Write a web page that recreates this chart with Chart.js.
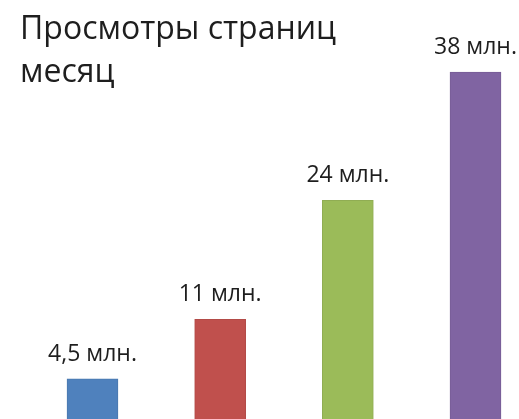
<!DOCTYPE html>
<html>
<head>
<meta charset="utf-8">
<script src="https://cdn.jsdelivr.net/npm/chart.js@4"></script>
<style>
html, body { margin: 0; padding: 0; background: #fff; overflow: hidden; }
canvas { display: block; }
</style>
</head>
<body>
<canvas id="views" width="519" height="420"></canvas>
<script>
const titleLines = ["Просмотры страниц", "месяц"];
const periods = ["1", "2", "3", "4"];
const views = [4.5, 11, 24, 38];
const valueLabels = ["4,5 млн.", "11 млн.", "24 млн.", "38 млн."];

const fontFace = "'Open Sans', sans-serif";

// title and labels over the bars, drawn on the canvas
const textPlugin = {
    id: "texts",
    afterDatasetsDraw(chart) {
        const ctx = chart.ctx;
        ctx.save();
        ctx.fillStyle = "#1e1e1e";
        ctx.textBaseline = "alphabetic";

        ctx.font = "32px " + fontFace;
        ctx.textAlign = "left";
        ctx.fillText(titleLines[0], 20, 39);
        ctx.fillText(titleLines[1], 20, 82);

        ctx.font = "23px " + fontFace;
        ctx.textAlign = "center";
        chart.getDatasetMeta(0).data.forEach((bar, i) => {
            ctx.fillText(valueLabels[i], bar.x, bar.y - 18);
        });
        ctx.restore();
    }
};

new Chart(document.getElementById("views"), {
    type: "bar",
    data: {
        labels: periods,
        datasets: [{
            data: views,
            backgroundColor: ["#4f81bd", "#c0504d", "#9bbb59", "#8064a2"],
            borderColor: ["#4a78ae", "#b34b48", "#90ad53", "#775d96"],
            borderWidth: 1,
            barThickness: 51,
            clip: false
        }]
    },
    options: {
        responsive: false,
        animation: false,
        devicePixelRatio: 1,
        layout: {
            padding: { left: 92.5, right: 43.5, top: 72, bottom: 0 }
        },
        plugins: {
            legend: { display: false },
            title: { display: false },
            tooltip: { enabled: false }
        },
        scales: {
            x: {
                display: false,
                offset: false
            },
            y: {
                display: false,
                min: 0,
                max: 38
            }
        }
    },
    plugins: [textPlugin]
});
</script>
</body>
</html>
